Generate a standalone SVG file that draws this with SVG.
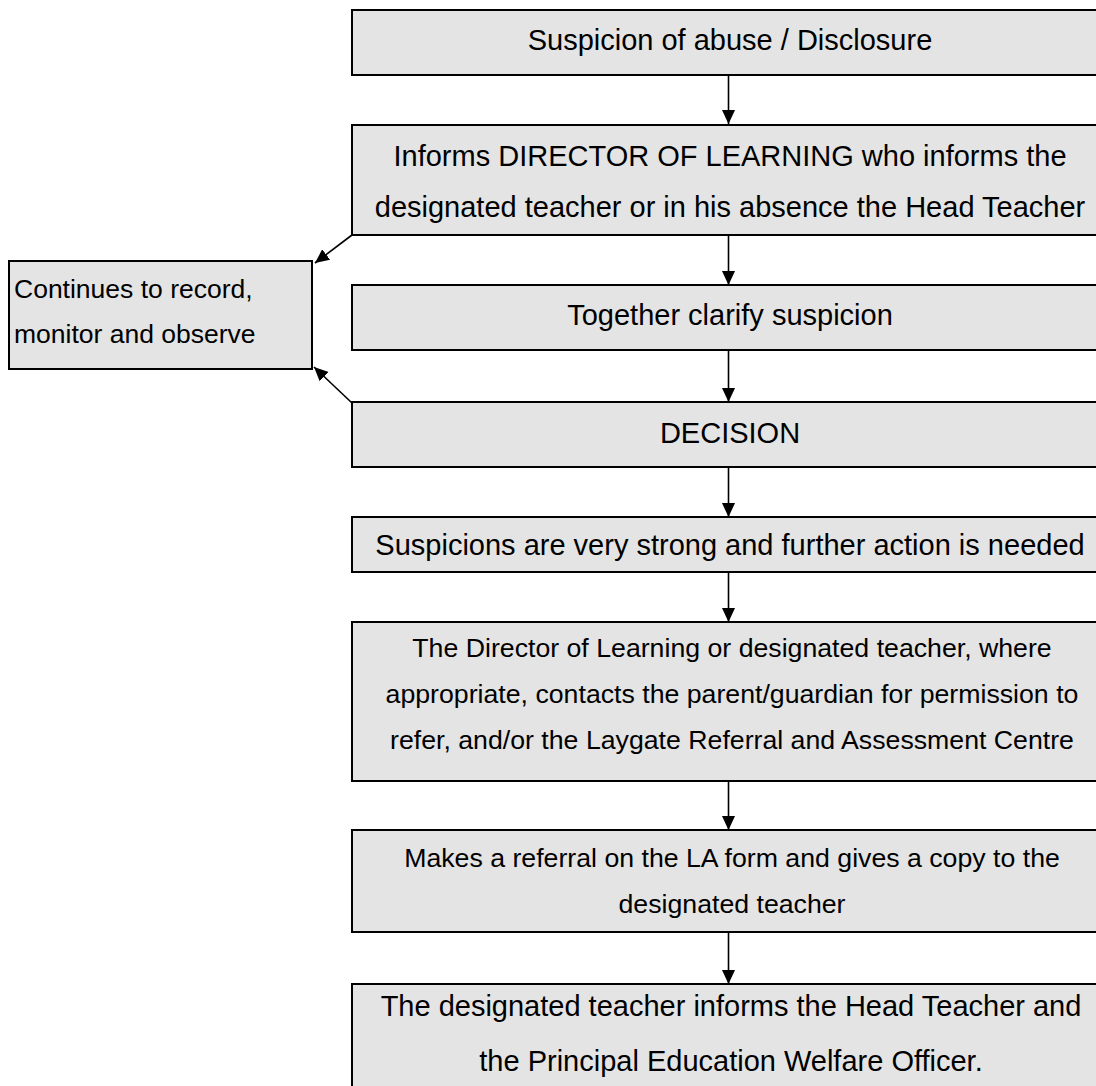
<svg xmlns="http://www.w3.org/2000/svg" width="1096" height="1086" viewBox="0 0 1096 1086">
<style>
.box{fill:#e4e4e4;stroke:#000;stroke-width:2}
.hl{stroke:#fff;stroke-width:1.2;fill:none}
.t{font-family:"Liberation Sans",Arial,sans-serif;font-size:29px;fill:#000;text-anchor:middle}
.s{font-size:26.7px}
.l{font-family:"Liberation Sans",Arial,sans-serif;font-size:26.5px;fill:#000}
.c{stroke:#000;stroke-width:1.6;fill:none}
</style>
<defs>
<marker id="ah" markerWidth="14" markerHeight="14" viewBox="0 0 15 14" refX="15" refY="7" orient="auto" markerUnits="userSpaceOnUse">
<path d="M0,0 L15,7 L0,14 Z" fill="#000"/>
</marker>
</defs>
<rect width="1096" height="1086" fill="#fff"/>
<g id="connectors">
<line class="c" x1="728.5" y1="75" x2="728.5" y2="124" marker-end="url(#ah)"/>
<line class="c" x1="728.5" y1="235" x2="728.5" y2="285" marker-end="url(#ah)"/>
<line class="c" x1="728.5" y1="350" x2="728.5" y2="402" marker-end="url(#ah)"/>
<line class="c" x1="728.5" y1="467" x2="728.5" y2="517" marker-end="url(#ah)"/>
<line class="c" x1="728.5" y1="572" x2="728.5" y2="622" marker-end="url(#ah)"/>
<line class="c" x1="728.5" y1="781" x2="728.5" y2="830" marker-end="url(#ah)"/>
<line class="c" x1="728.5" y1="932" x2="728.5" y2="984" marker-end="url(#ah)"/>
<line class="c" x1="352" y1="235" x2="315" y2="263" marker-end="url(#ah)"/>
<line class="c" x1="352" y1="403" x2="314" y2="367" marker-end="url(#ah)"/>
</g>
<g id="n1">
<rect class="box" x="352" y="10" width="756" height="65"/>
<text class="t" x="730" y="50">Suspicion of abuse / Disclosure</text>
</g>
<g id="n2">
<rect class="box" x="352" y="125" width="756" height="110"/>
<text class="t" x="730" y="166">Informs DIRECTOR OF LEARNING who informs the</text>
<text class="t" x="730" y="217">designated teacher or in his absence the Head Teacher</text>
</g>
<g id="n_side">
<rect class="box" x="9" y="261" width="303" height="108"/>
<text class="l" x="14" y="298">Continues to record,</text>
<text class="l" x="14" y="343">monitor and observe</text>
</g>
<g id="n3">
<rect class="box" x="352" y="285" width="756" height="65"/>
<text class="t" x="730" y="325">Together clarify suspicion</text>
</g>
<g id="n4">
<rect class="box" x="352" y="402" width="756" height="65"/>
<text class="t" x="730" y="443">DECISION</text>
</g>
<g id="n5">
<rect class="box" x="352" y="517" width="756" height="55"/>
<text class="t" x="730" y="555">Suspicions are very strong and further action is needed</text>
</g>
<g id="n6">
<rect class="box" x="352" y="622" width="756" height="159"/>
<text class="t s" x="732" y="657">The Director of Learning or designated teacher, where</text>
<text class="t s" x="732" y="703">appropriate, contacts the parent/guardian for permission to</text>
<text class="t s" x="732" y="749">refer, and/or the Laygate Referral and Assessment Centre</text>
</g>
<g id="n7">
<rect class="box" x="352" y="830" width="756" height="102"/>
<text class="t s" x="732" y="867">Makes a referral on the LA form and gives a copy to the</text>
<text class="t s" x="732" y="913">designated teacher</text>
</g>
<g id="n8">
<rect class="box" x="352" y="984" width="756" height="120"/>
<text class="t" x="731" y="1016">The designated teacher informs the Head Teacher and</text>
<text class="t" x="731" y="1071">the Principal Education Welfare Officer.</text>
</g>
</svg>
